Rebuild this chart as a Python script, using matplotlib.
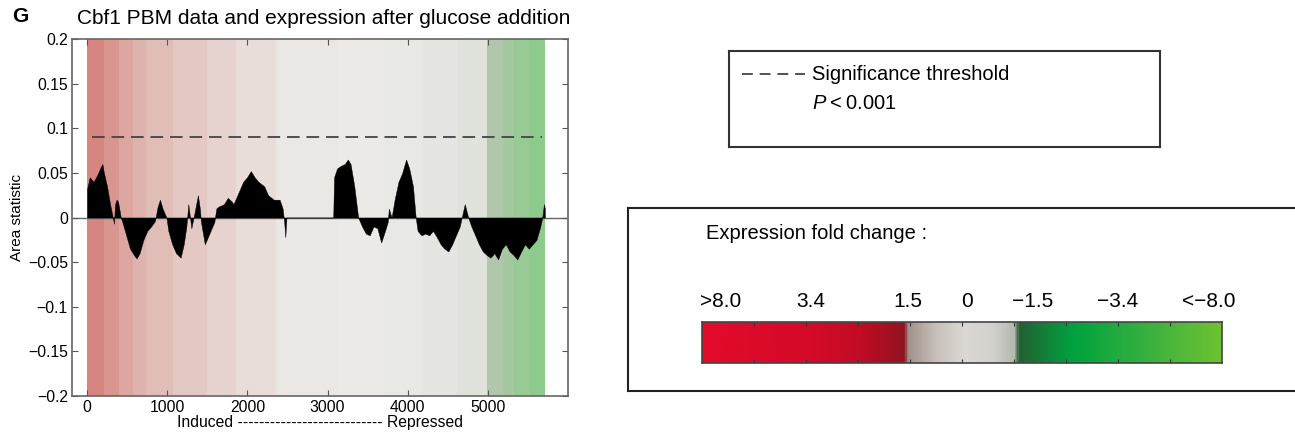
import matplotlib.pyplot as plt
from matplotlib.colors import LinearSegmentedColormap, Normalize
import numpy as np

plt.rcParams['font.family'] = ['Liberation Sans', 'DejaVu Sans']
plt.rcParams['mathtext.fontset'] = 'custom'
plt.rcParams['mathtext.it'] = 'Liberation Sans:italic'
plt.rcParams['mathtext.rm'] = 'Liberation Sans'

# Area statistic along gene rank (induced -> repressed)
rank = [0, 33, 81, 129, 163, 191, 210, 249, 287, 321, 335, 350, 368, 385, 402, 420,
        440, 488, 536, 584, 617, 655, 703, 751, 799, 847, 880, 909, 942, 990, 1014,
        1062, 1110, 1167, 1206, 1239, 1263, 1301, 1340, 1383, 1407, 1421, 1469, 1517,
        1588, 1612, 1636, 1708, 1756, 1804, 1827, 1851, 1899, 1947, 1995, 2043, 2091,
        2138, 2210, 2258, 2330, 2402, 2440, 2459, 2473, 2488, 3071, 3081, 3119, 3167,
        3215, 3253, 3287, 3334, 3382, 3430, 3478, 3526, 3574, 3622, 3669, 3717, 3751,
        3765, 3799, 3837, 3885, 3932, 3980, 4019, 4066, 4100, 4124, 4172, 4219, 4267,
        4315, 4363, 4411, 4459, 4507, 4555, 4602, 4650, 4674, 4712, 4755, 4794, 4842,
        4889, 4937, 4985, 5033, 5081, 5128, 5176, 5224, 5272, 5320, 5368, 5416, 5463,
        5511, 5559, 5607, 5655, 5679, 5700, 5712]
area = [0.032, 0.045, 0.040, 0.048, 0.055, 0.060, 0.050, 0.035, 0.015, 0.0, -0.007,
        0.015, 0.020, 0.018, 0.010, 0.0, -0.005, -0.020, -0.035, -0.042, -0.046,
        -0.040, -0.025, -0.015, -0.010, -0.004, 0.012, 0.020, 0.010, 0.0, -0.015,
        -0.030, -0.040, -0.045, -0.030, -0.010, 0.015, -0.012, 0.005, 0.025, 0.010,
        -0.005, -0.030, -0.020, -0.005, 0.010, 0.012, 0.015, 0.022, 0.018, 0.015,
        0.020, 0.030, 0.040, 0.045, 0.052, 0.045, 0.040, 0.035, 0.025, 0.020, 0.020,
        0.010, -0.005, -0.022, 0.0, 0.0, 0.045, 0.055, 0.058, 0.060, 0.065, 0.060,
        0.035, 0.0, -0.010, -0.018, -0.020, -0.010, -0.012, -0.028, -0.015, -0.005,
        0.010, 0.0, 0.020, 0.040, 0.050, 0.065, 0.055, 0.035, 0.0, -0.015, -0.020,
        -0.018, -0.020, -0.015, -0.022, -0.030, -0.035, -0.038, -0.030, -0.020,
        -0.010, 0.0, 0.015, 0.0, -0.010, -0.020, -0.030, -0.038, -0.042, -0.045,
        -0.040, -0.047, -0.035, -0.030, -0.038, -0.042, -0.047, -0.038, -0.030,
        -0.035, -0.030, -0.025, -0.010, 0.0, 0.015, 0.010]

threshold = 0.09
threshold_span = [57, 5680]

# expression fold change (log scale) of genes along the rank
band_edges = [0, 210, 400, 570, 735, 1070, 1500, 1860, 2360, 3130, 3700, 4180,
              4610, 4985, 5185, 5330, 5520, 5716]
band_fold = [3.0, 2.5, 2.0, 1.6, 1.3, 1.0, 0.7, 0.4, 0.1, -0.1, -0.3, -0.5,
             -0.8, -1.8, -2.2, -2.6, -3.0]

yticks = [-0.2, -0.15, -0.1, -0.05, 0, 0.05, 0.1, 0.15, 0.2]
ytick_labels = ['\u22120.2', '\u22120.15', '\u22120.1', '\u22120.05', '0',
                '0.05', '0.1', '0.15', '0.2']
xticks = [0, 1000, 2000, 3000, 4000, 5000]

fold_labels = ['>8.0', '3.4', '1.5', '0', '\u22121.5', '\u22123.4', '<\u22128.0']
fold_label_pos = [0.35, 2.1, 3.96, 5.1, 6.35, 8.0, 9.75]

fig = plt.figure(figsize=(12.95, 4.32), dpi=100)

# ---- main panel
ax = fig.add_axes([0.0556, 0.0833, 0.383, 0.8264])
bg_cmap = LinearSegmentedColormap.from_list('bg', [
    (0.0, '#86cc86'), (0.25, '#b6c6b0'), (0.27, '#d6dbd2'),
    (0.5, '#ecebe8'), (0.73, '#e0b8b2'), (1.0, '#d4807b')])
ax.pcolormesh(band_edges, [-0.2, 0.2], np.array([band_fold]), cmap=bg_cmap,
              norm=Normalize(-3.2, 3.2), shading='flat', zorder=0, rasterized=True)
ax.axhline(0, color='#666666', lw=1, zorder=1)
ax.fill_between(rank, area, 0, color='black', lw=0.3, edgecolor='black', zorder=2)
ax.plot(threshold_span, [threshold, threshold], ls=(0, (7, 3.8)), color='#444444',
        lw=1.3, zorder=3)

ax.set_xlim(-188, 6000)
ax.set_ylim(-0.2, 0.2)
ax.set_yticks(yticks)
ax.set_yticklabels(ytick_labels)
ax.set_xticks(xticks)
ax.tick_params(direction='in', top=True, right=True, length=4, labelsize=11.3,
               color='#555555', pad=3)
for s in ax.spines.values():
    s.set_color('#666666')
    s.set_linewidth(1.2)
ax.set_ylabel('Area statistic', fontsize=11, labelpad=3)
ax.set_xlabel('Induced --------------------------- Repressed', fontsize=11.3, labelpad=0)
ax.set_title('Cbf1 PBM data and expression after glucose addition', fontsize=15,
             loc='left', x=0.01, pad=11)
fig.text(0.009, 0.962, 'G', fontsize=15, fontweight='bold', va='center')

# ---- threshold legend box
lax = fig.add_axes([0.563, 0.6597, 0.3328, 0.2222])
lax.set_xticks([])
lax.set_yticks([])
for s in lax.spines.values():
    s.set_color('#333333')
    s.set_linewidth(1.5)
lax.plot([0.03, 0.176], [0.76, 0.76], ls=(0, (6, 3.8)), color='#444444', lw=1.3)
lax.set_xlim(0, 1)
lax.set_ylim(0, 1)
lax.text(0.193, 0.76, 'Significance threshold', fontsize=14.5, va='center')
lax.text(0.193, 0.45, r'$P$' + '\u2009<\u20090.001', fontsize=14.5, va='center')

# ---- expression legend box
eax = fig.add_axes([0.485, 0.0949, 0.515, 0.424])
eax.set_xticks([])
eax.set_yticks([])
for s in eax.spines.values():
    s.set_color('#222222')
    s.set_linewidth(1.5)
eax.spines['right'].set_visible(False)
fig.text(0.545, 0.46, 'Expression fold change :', fontsize=14.5, va='center')

cmap = LinearSegmentedColormap.from_list('fold', [
    (0.0, '#e30a2c'), (0.2, '#d50a28'), (0.3, '#c20c25'), (0.373, '#9a1220'),
    (0.39, '#8c1520'), (0.395, '#a0908a'), (0.45, '#c8c0ba'), (0.506, '#dcd8d4'),
    (0.56, '#d2d2cc'), (0.60, '#b4bab0'), (0.61, '#245f32'), (0.65, '#157a38'),
    (0.714, '#00a23e'), (0.85, '#35b040'), (1.0, '#6ec232')])
cax = fig.add_axes([0.5421, 0.1597, 0.4015, 0.0949])
cax.imshow(np.linspace(0, 1, 400)[None, :], aspect='auto', cmap=cmap,
           extent=[0, 10, 0, 1])
cax.set_xlim(0, 10)
cax.set_ylim(0, 1)
cax.set_xticks(range(1, 10))
cax.set_xticklabels([])
cax.set_yticks([])
cax.tick_params(axis='x', direction='in', top=True, bottom=True, length=3,
                color='#333333')
for s in cax.spines.values():
    s.set_color('#444444')
    s.set_linewidth(1.2)
for lab, p in zip(fold_labels, fold_label_pos):
    cax.text(p, 1.5, lab, fontsize=15, ha='center', va='center',
             transform=cax.transData, clip_on=False)

fig.savefig('out.png', dpi=100)
